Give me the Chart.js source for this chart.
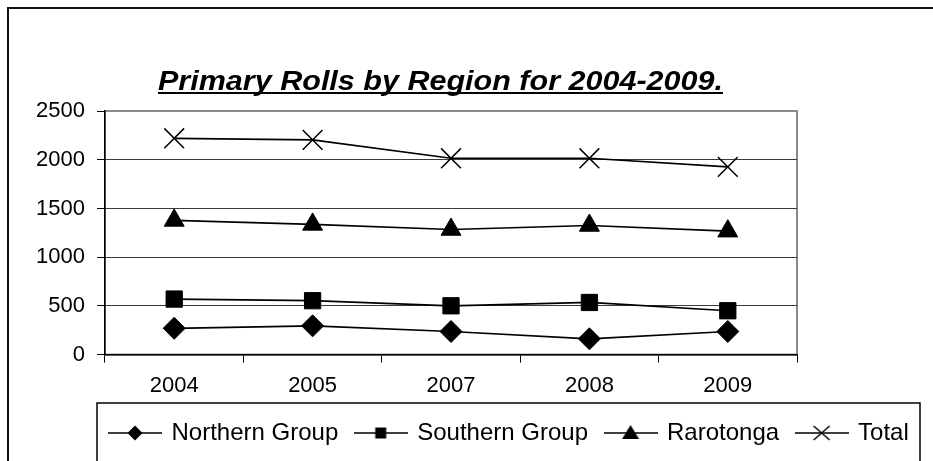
<!DOCTYPE html>
<html>
<head>
<meta charset="utf-8">
<script src="https://cdn.jsdelivr.net/npm/chart.js@4/dist/chart.umd.min.js"></script>
<style>
  html, body { margin: 0; padding: 0; background: #fff; }
  #wrap { width: 933px; height: 461px; position: relative; }
</style>
</head>
<body>
<div id="wrap"><canvas id="rollsChart"></canvas></div>
<script>
const chartTitle = 'Primary Rolls by Region for 2004-2009.';
const years = ['2004', '2005', '2007', '2008', '2009'];
const seriesNames = ['Northern Group', 'Southern Group', 'Rarotonga', 'Total'];
const northernGroup = [270, 295, 237, 162, 237];
const southernGroup = [570, 553, 501, 535, 450];
const rarotonga = [1377, 1336, 1284, 1325, 1267];
const total = [2220, 2204, 2015, 2015, 1926];
const yMax = 2500;
const yStep = 500;

const FONT = '"Liberation Sans", Arial, sans-serif';

// little line+marker pictures for the legend, like the office legend keys
function legendIcon(kind) {
    const c = document.createElement('canvas');
    c.width = 54;
    c.height = 24;
    const ctx = c.getContext('2d');
    ctx.strokeStyle = '#000';
    ctx.fillStyle = '#000';
    ctx.lineWidth = 1.5;
    ctx.beginPath();
    ctx.moveTo(0, 12);
    ctx.lineTo(54, 12);
    ctx.stroke();
    const x = 27, y = 12;
    ctx.beginPath();
    if (kind === 'diamond') {
        ctx.moveTo(x, y - 7.5);
        ctx.lineTo(x + 7.5, y);
        ctx.lineTo(x, y + 7.5);
        ctx.lineTo(x - 7.5, y);
        ctx.closePath();
        ctx.fill();
    } else if (kind === 'square') {
        ctx.rect(x - 5.5, y - 5.5, 11, 11);
        ctx.fill();
    } else if (kind === 'triangle') {
        ctx.moveTo(x, y - 8);
        ctx.lineTo(x + 8.5, y + 6);
        ctx.lineTo(x - 8.5, y + 6);
        ctx.closePath();
        ctx.fill();
    } else {
        ctx.moveTo(x - 8, y - 7);
        ctx.lineTo(x + 8, y + 7);
        ctx.moveTo(x + 8, y - 7);
        ctx.lineTo(x - 8, y + 7);
        ctx.stroke();
    }
    return c;
}

const legendIcons = [legendIcon('diamond'), legendIcon('square'), legendIcon('triangle'), legendIcon('cross')];

let legendShifted = false;

const frame = {
    id: 'frame',
    beforeDraw(chart) {
        const ctx = chart.ctx;
        const a = chart.chartArea;
        ctx.save();
        // outer border of the chart object
        ctx.strokeStyle = '#111';
        ctx.lineWidth = 2;
        ctx.beginPath();
        ctx.moveTo(8, chart.height + 2);
        ctx.lineTo(8, 8);
        ctx.lineTo(chart.width + 2, 8);
        ctx.stroke();
        // plot area border
        ctx.strokeStyle = '#8a8a8a';
        ctx.lineWidth = 2;
        ctx.strokeRect(a.left, a.top, a.right - a.left, a.bottom - a.top);
        ctx.restore();

        // legend keys start inside a framed box under the plot
        const lg = chart.legend;
        lg.left = 92.5;
        if (!legendShifted) {
            lg.top -= 6;
            legendShifted = true;
        }
        ctx.save();
        ctx.strokeStyle = '#000';
        ctx.lineWidth = 1.5;
        ctx.beginPath();
        ctx.moveTo(97, chart.height + 2);
        ctx.lineTo(97, 403);
        ctx.lineTo(920, 403);
        ctx.lineTo(920, chart.height + 2);
        ctx.stroke();
        ctx.restore();
    },
    afterDraw(chart) {
        const ctx = chart.ctx;
        ctx.save();
        ctx.font = 'italic bold 27px ' + FONT;
        ctx.fillStyle = '#000';
        ctx.textBaseline = 'alphabetic';
        const w = ctx.measureText(chartTitle).width;
        const sx = 565 / w;
        ctx.translate(158, 90);
        ctx.scale(sx, 1);
        ctx.fillText(chartTitle, 0, 0);
        ctx.restore();
        ctx.save();
        ctx.strokeStyle = '#000';
        ctx.lineWidth = 2;
        ctx.beginPath();
        ctx.moveTo(158, 93);
        ctx.lineTo(723, 93);
        ctx.stroke();
        ctx.restore();
    }
};

const data = {
    labels: years,
    datasets: [{
        label: seriesNames[0],
        data: northernGroup,
        pointStyle: 'rectRot',
        pointRadius: 11
    }, {
        label: seriesNames[1],
        data: southernGroup,
        pointStyle: 'rect',
        pointRadius: 11.5
    }, {
        label: seriesNames[2],
        data: rarotonga,
        pointStyle: 'triangle',
        pointRadius: 11.5
    }, {
        label: seriesNames[3],
        data: total,
        pointStyle: 'crossRot',
        pointRadius: 14,
        pointBorderWidth: 1.5
    }].map(ds => Object.assign({
        borderColor: '#000',
        backgroundColor: '#000',
        pointBackgroundColor: '#000',
        pointBorderColor: '#000',
        borderWidth: 1.7,
        pointBorderWidth: 1,
        pointHoverRadius: ds.pointRadius,
        tension: 0,
        yAxisID: 'y'
    }, ds))
};

new Chart(document.getElementById('rollsChart'), {
    type: 'line',
    data: data,
    plugins: [frame],
    options: {
        responsive: true,
        maintainAspectRatio: false,
        animation: false,
        events: [],
        layout: {
            padding: { top: 111, left: 0, right: 0, bottom: 0 }
        },
        scales: {
            x: {
                offset: true,
                grid: {
                    offset: true,
                    drawOnChartArea: false,
                    drawTicks: true,
                    tickLength: 8,
                    color: '#000',
                    lineWidth: 1
                },
                border: { color: '#000', width: 1.5 },
                ticks: {
                    color: '#000',
                    font: { family: FONT, size: 22 },
                    padding: 10
                }
            },
            y: {
                min: 0,
                max: yMax,
                afterFit(scale) { scale.width = 105; },
                ticks: {
                    stepSize: yStep,
                    color: '#000',
                    font: { family: FONT, size: 22 },
                    padding: 12,
                    callback: v => String(v)
                },
                grid: {
                    color: ctx => ctx.tick && ctx.tick.value === yMax ? '#8a8a8a' : '#3a3a3a',
                    tickColor: '#000',
                    tickLength: 8,
                    lineWidth: 1
                },
                border: { color: '#000', width: 1.5 }
            },
            // empty space to the right of the plot
            spacer: {
                position: 'right',
                display: true,
                ticks: { display: false },
                grid: { display: false },
                border: { display: false },
                afterFit(scale) { scale.width = 136; }
            }
        },
        plugins: {
            legend: {
                position: 'bottom',
                align: 'start',
                labels: {
                    usePointStyle: true,
                    pointStyleWidth: 49,
                    padding: 18,
                    color: '#000',
                    font: { family: FONT, size: 24 },
                    generateLabels(chart) {
                        return chart.data.datasets.map((ds, i) => ({
                            text: ds.label,
                            pointStyle: legendIcons[i],
                            fillStyle: '#000',
                            strokeStyle: '#000',
                            lineWidth: 0,
                            hidden: false,
                            datasetIndex: i
                        }));
                    }
                }
            },
            tooltip: { enabled: false }
        }
    }
});
</script>
</body>
</html>
